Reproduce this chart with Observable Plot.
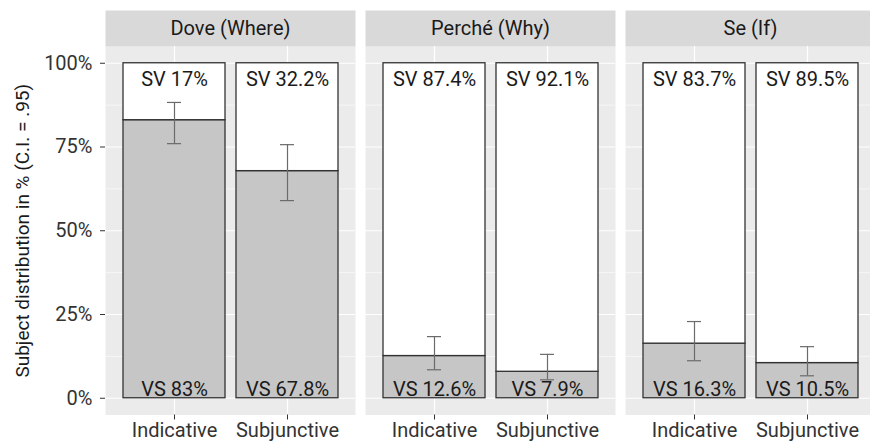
<!DOCTYPE html>
<html>
<head>
<meta charset="utf-8">
<script src="https://cdn.jsdelivr.net/npm/d3@7"></script>
<script src="https://cdn.jsdelivr.net/npm/@observablehq/plot@0.6"></script>
<style>
  html, body { margin: 0; padding: 0; background: white; overflow: hidden; }
  #chart svg { display: block; }
</style>
</head>
<body>
<div id="chart"></div>
<script>
const verbs = ["Dove (Where)", "Perché (Why)", "Se (If)"];
const moods = ["Indicative", "Subjunctive"];
const vsPct = [83, 67.8, 12.6, 7.9, 16.3, 10.5];
const svPct = [17, 32.2, 87.4, 92.1, 83.7, 89.5];
const ciLow = [76.0, 59.0, 8.5, 5.5, 11.2, 6.7];
const ciHigh = [88.3, 75.7, 18.4, 13.1, 22.9, 15.4];
const yTicks = [0, 25, 50, 75, 100];
const yMinorTicks = [12.5, 37.5, 62.5, 87.5];
const yLabel = "Subject distribution in % (C.I. = .95)";

const rows = verbs.flatMap((verb, i) => moods.map((mood, j) => {
  const k = i * moods.length + j;
  return {verb, mood, vs: vsPct[k], sv: svPct[k], lo: ciLow[k], hi: ciHigh[k]};
}));

const W = 870, H = 442, MT = 46, MB = 27.5;
const panelH = H - MT - MB;
const font = "Roboto, 'Noto Sans', sans-serif";
const FS = 20;

const chart = Plot.plot({
  width: W,
  height: H,
  marginLeft: 105,
  marginRight: -6,
  marginTop: MT,
  marginBottom: MB,
  style: {fontFamily: font, fontSize: FS + "px", color: "#333", background: "white", overflow: "visible"},
  fx: {domain: verbs, axis: null, paddingInner: 0.0384, paddingOuter: 0},
  x: {domain: moods, paddingInner: 0.1, paddingOuter: 0.15, align: 0.5},
  y: {domain: [-5, 105]},
  marks: [
    Plot.frame({fill: "#ebebeb"}),
    Plot.frame({fill: "#d9d9d9", insetTop: -36, insetBottom: panelH}),
    Plot.gridY(yMinorTicks, {stroke: "white", strokeWidth: 0.6, strokeOpacity: 1}),
    Plot.gridY(yTicks, {stroke: "white", strokeWidth: 1.2, strokeOpacity: 1}),
    Plot.gridX(moods, {stroke: "white", strokeWidth: 1.2, strokeOpacity: 1}),
    Plot.rectY(rows, {fx: "verb", x: "mood", y1: 0, y2: "vs", fill: "#c6c6c6", stroke: "#333", strokeWidth: 1.3}),
    Plot.rectY(rows, {fx: "verb", x: "mood", y1: "vs", y2: d => d.vs + d.sv, fill: "white", stroke: "#333", strokeWidth: 1.3}),
    Plot.text(rows, {fx: "verb", x: "mood", y: d => d.vs + d.sv, text: d => `SV ${d.sv}%`, dy: 16, fontSize: FS, fill: "#1a1a1a"}),
    Plot.text(rows, {fx: "verb", x: "mood", y: 0, text: d => `VS ${d.vs}%`, dy: -9, fontSize: FS, fill: "#1a1a1a"}),
    Plot.ruleX(rows, {fx: "verb", x: "mood", y1: "lo", y2: "hi", stroke: "#6b6b6b", strokeWidth: 1.2}),
    Plot.tickY(rows, {fx: "verb", x: "mood", y: "lo", insetLeft: 44, insetRight: 44, stroke: "#6b6b6b", strokeWidth: 1.2}),
    Plot.tickY(rows, {fx: "verb", x: "mood", y: "hi", insetLeft: 44, insetRight: 44, stroke: "#6b6b6b", strokeWidth: 1.2}),
    Plot.text(verbs, {fx: d => d, text: d => d, frameAnchor: "top", lineAnchor: "middle", dy: -18, fontSize: FS, fill: "#1a1a1a"}),
    Plot.axisY({ticks: yTicks, tickFormat: d => d + "%", tickSize: 5, tickPadding: 8, fontSize: FS, label: null, color: "#333"}),
    Plot.text([yLabel], {fx: () => verbs[0], text: d => d, frameAnchor: "left", textAnchor: "middle", lineAnchor: "middle", rotate: -90, dx: -83, fontSize: 19, fill: "#1a1a1a"}),
    Plot.axisX({tickSize: 5, tickPadding: 3, fontSize: FS, label: null, color: "#333"})
  ]
});
document.getElementById("chart").appendChild(chart);
</script>
</body>
</html>
